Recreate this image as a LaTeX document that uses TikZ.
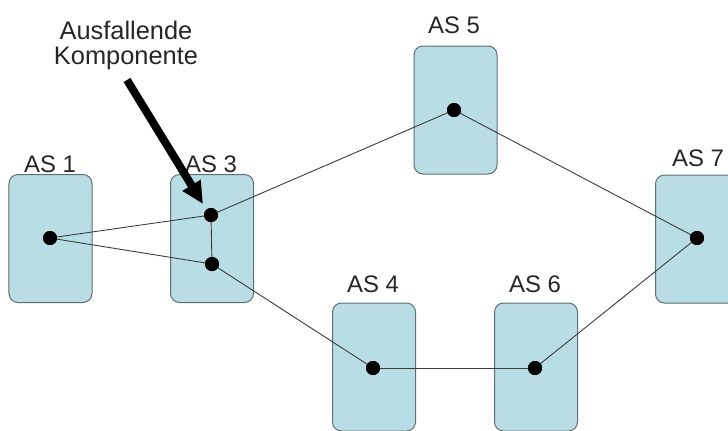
\documentclass[tikz,border=0pt]{standalone}
\usepackage{fontspec}
\setmainfont{Liberation Sans}
\usetikzlibrary{arrows.meta}
\definecolor{boxfill}{RGB}{184,221,228}
\definecolor{boxline}{RGB}{95,112,116}
\definecolor{edgecol}{RGB}{60,60,60}
\tikzset{
  asbox/.style={draw=boxline, line width=1bp, fill=boxfill, rounded corners=9bp,
    minimum width=83bp, minimum height=128bp, inner sep=0pt},
  router/.style={circle, fill=black, minimum size=14bp, inner sep=0pt},
  aslabel/.style={font=\fontsize{24}{26}\selectfont, text=black!85, inner sep=0pt},
  link/.style={draw=edgecol, line width=0.9bp},
  bigarrow/.style={line width=8bp, -{Triangle[length=22bp,width=20bp]}}
}
\begin{document}
\begin{tikzpicture}[x=1bp,y=-1bp]
\useasboundingbox (0,0) rectangle (728,430);
\clip (0,0) rectangle (728,430);
\fill[white] (0,0) rectangle (728,430);
% boxes
\node[asbox] (b1) at (50.5,238.5) {};
\node[asbox] (b3) at (212,238.5) {};
\node[asbox] (b5) at (455.5,110) {};
\node[asbox] (b7) at (697,239) {};
\node[asbox] (b4) at (374,367) {};
\node[asbox] (b6) at (536,367) {};
% labels
\node[aslabel] (l1) at (50,164) {AS 1};
\node[aslabel] (l3) at (211,164) {AS 3};
\node[aslabel] (l5) at (454,25) {AS 5};
\node[aslabel] (l7) at (698,158) {AS 7};
\node[aslabel] (l4) at (373,284) {AS 4};
\node[aslabel] (l6) at (535,284) {AS 6};
% routers
\node[router] (r1) at (50,238) {};
\node[router] (r3a) at (211,215) {};
\node[router] (r3b) at (212,264) {};
\node[router] (r5) at (454,110) {};
\node[router] (r7) at (697,238) {};
\node[router] (r4) at (373,368) {};
\node[router] (r6) at (535,368) {};
% links
\draw[link] (r1.center) -- (r3a.center);
\draw[link] (r1.center) -- (r3b.center);
\draw[link] (r3a.center) -- (r3b.center);
\draw[link] (r3a.center) -- (r5.center);
\draw[link] (r5.center) -- (r7.center);
\draw[link] (r3b.center) -- (r4.center);
\draw[link] (r4.center) -- (r6.center);
\draw[link] (r6.center) -- (r7.center);
% redraw routers on top
\foreach \r in {r1,r3a,r3b,r5,r7,r4,r6} \fill (\r) circle (7bp);
% annotation
\node[font=\fontsize{25.5}{25}\selectfont, align=center, text=black!85, inner sep=0pt] (ann) at (126,45) {Ausfallende\\Komponente};
\coordinate (astart) at (127,80);
\coordinate (atip) at (203,204);
\draw[bigarrow] (astart) -- (atip);
\end{tikzpicture}
\end{document}
